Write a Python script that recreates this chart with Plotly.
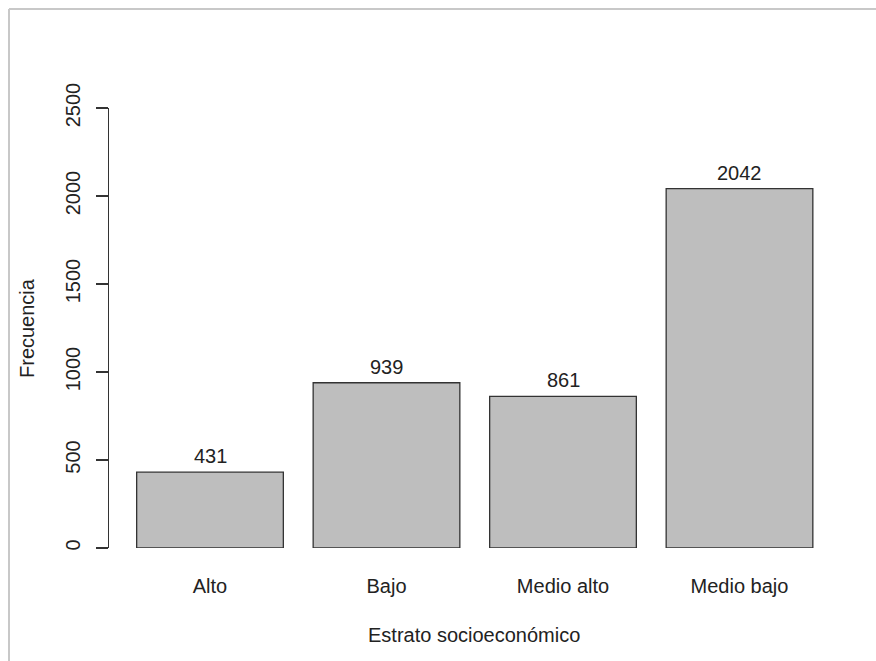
import plotly.graph_objects as go

categorias = ["Alto", "Bajo", "Medio alto", "Medio bajo"]
frecuencias = [431, 939, 861, 2042]
y_ticks = [0, 500, 1000, 1500, 2000, 2500]
titulo_x = "Estrato socioeconómico"
titulo_y = "Frecuencia"

W, H = 876, 661
L, R, T, B = 109, 34, 108, 113
FONT = "Liberation Sans, Arial, sans-serif"
FS = 20
TXT = "#222222"

fig = go.Figure()
fig.add_trace(go.Bar(
    x=categorias, y=frecuencias,
    marker=dict(color="#BEBEBE", line=dict(color="#333333", width=1.3)),
    hoverinfo="skip",
))

for c, v in zip(categorias, frecuencias):
    fig.add_annotation(x=c, y=v, text=str(v), showarrow=False,
                       yanchor="middle", yshift=16,
                       font=dict(family=FONT, size=FS, color=TXT))

pw = W - L - R
ph = H - T - B
fig.add_annotation(xref="paper", yref="paper", x=(474 - L) / pw, y=(548 - 635) / ph,
                   text=titulo_x, showarrow=False, xanchor="center", yanchor="middle",
                   font=dict(family=FONT, size=FS, color=TXT))
fig.add_annotation(xref="paper", yref="paper", x=(27 - L) / pw, y=0.5,
                   text=titulo_y, showarrow=False, textangle=-90,
                   xanchor="center", yanchor="middle",
                   font=dict(family=FONT, size=FS, color=TXT))

# light frame around the image
fig.add_shape(type="line", xref="paper", yref="paper",
              x0=(9 - L) / pw, x1=(W + 5 - L) / pw,
              y0=(H - B - 9) / ph, y1=(H - B - 9) / ph,
              line=dict(color="#C8C8C8", width=2))
fig.add_shape(type="line", xref="paper", yref="paper",
              x0=(9 - L) / pw, x1=(9 - L) / pw,
              y0=(H - B - 9) / ph, y1=(H - B - H - 5) / ph,
              line=dict(color="#C8C8C8", width=2))

pitch = 176.5
x0 = -(210 - L) / pitch
x1 = x0 + pw / pitch

fig.update_layout(
    width=W, height=H,
    margin=dict(l=L, r=R, t=T, b=B, autoexpand=False),
    paper_bgcolor="white", plot_bgcolor="white",
    bargap=0.169, showlegend=False,
    font=dict(family=FONT, size=FS, color=TXT),
    xaxis=dict(range=[x0, x1], showline=False, showgrid=False, zeroline=False,
               ticks="", ticklabelstandoff=24,
               tickfont=dict(family=FONT, size=FS, color=TXT)),
    yaxis=dict(range=[0, 2500], tickvals=y_ticks, ticktext=[str(t) for t in y_ticks],
               showline=True, linecolor="#333333", linewidth=1.3,
               ticks="outside", ticklen=12, tickwidth=1.3, tickcolor="#333333",
               tickangle=-90, ticklabelstandoff=8,
               showgrid=False, zeroline=False,
               tickfont=dict(family=FONT, size=FS, color=TXT)),
)

fig.write_html("out.html",
               config={"displayModeBar": False, "staticPlot": True},
               post_script="document.body.style.margin='0';document.body.style.overflow='hidden';")
